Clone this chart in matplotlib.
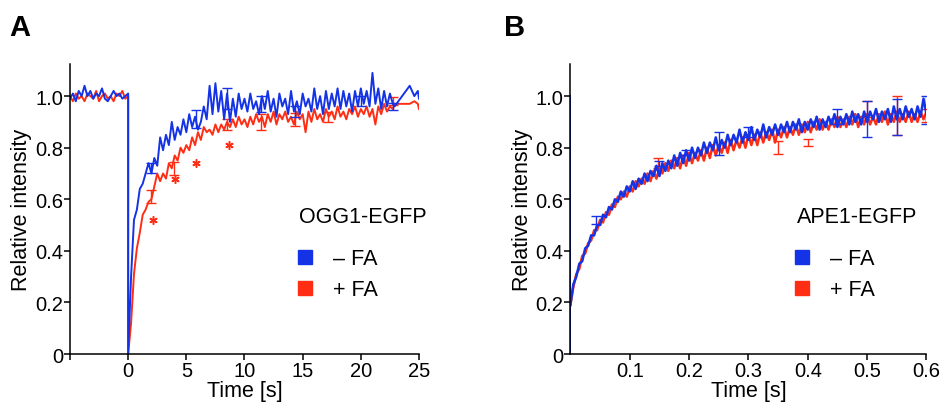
import numpy as np
import matplotlib
matplotlib.use("Agg")
import matplotlib.pyplot as plt
from matplotlib.lines import Line2D

plt.rcParams['font.family'] = ['Liberation Sans', 'DejaVu Sans']

# colours
c_minus = '#1433e6'
c_plus = '#ff2d14'

# ---------------- panel A: OGG1-EGFP ----------------
# pre-bleach, t = -5 .. 0 step 0.25
a_pre_t = np.arange(-5, 0.001, 0.25)
a_pre_minus = [0.99, 1.01, 0.98, 1.02, 1.00, 1.04, 1.00, 1.02, 0.99, 1.01, 1.00,
               1.03, 0.99, 0.98, 1.00, 1.02, 1.00, 1.01, 0.99, 1.00, 1.01]
a_pre_plus = [1.00, 0.98, 1.01, 0.99, 1.00, 0.98, 1.01, 1.00, 0.99, 1.02, 0.98,
              1.00, 1.01, 0.99, 1.00, 0.98, 1.01, 1.00, 1.02, 0.99, 1.00]

# post-bleach, t = 0 .. 22.75 step 0.25
a_post_t = np.arange(0, 22.76, 0.25)
a_post_minus = [0.00, 0.30, 0.52, 0.56, 0.64, 0.66, 0.70, 0.74, 0.70, 0.76,
                0.73, 0.84, 0.79, 0.85, 0.81, 0.90, 0.83, 0.88, 0.85, 0.91,
                0.86, 0.93, 0.88, 0.92, 0.87, 0.90, 0.96, 0.91, 1.04, 0.93,
                1.05, 0.94, 1.02, 0.91, 1.01, 0.90, 0.99, 0.92, 1.01, 0.95,
                0.99, 0.94, 1.01, 0.95, 0.98, 0.93, 1.00, 0.95, 1.02, 0.94,
                0.99, 0.92, 1.01, 0.96, 0.99, 0.93, 1.02, 0.94, 0.98, 0.93,
                1.01, 0.96, 0.99, 0.94, 1.03, 0.95, 1.00, 0.93, 1.02, 0.95,
                1.01, 0.96, 1.03, 0.95, 1.02, 0.96, 1.01, 0.94, 1.02, 0.96,
                1.03, 0.97, 1.02, 0.96, 1.09, 0.97, 1.03, 0.95, 1.02, 0.96,
                1.01, 0.97]
a_post_plus = [0.00, 0.12, 0.31, 0.41, 0.47, 0.54, 0.56, 0.59, 0.60, 0.65,
               0.70, 0.67, 0.70, 0.68, 0.74, 0.72, 0.77, 0.75, 0.80, 0.78,
               0.81, 0.79, 0.84, 0.81, 0.86, 0.83, 0.88, 0.86, 0.87, 0.85,
               0.89, 0.86, 0.89, 0.87, 0.90, 0.88, 0.91, 0.88, 0.92, 0.89,
               0.91, 0.88, 0.92, 0.89, 0.93, 0.90, 0.92, 0.88, 0.93, 0.90,
               0.94, 0.89, 0.93, 0.91, 0.94, 0.90, 0.92, 0.89, 0.94, 0.91,
               0.93, 0.86, 0.94, 0.90, 0.95, 0.91, 0.93, 0.90, 0.95, 0.92,
               0.94, 0.91, 0.96, 0.92, 0.94, 0.91, 0.95, 0.93, 0.96, 0.92,
               0.95, 0.93, 0.96, 0.92, 0.95, 0.89, 0.96, 0.93, 0.97, 0.94,
               0.96, 0.95]

# sparse tail
a_tail_t = [22.9, 24.2, 24.6, 24.9, 25.0]
a_tail_minus = [0.96, 1.04, 1.00, 1.02, 0.99]
a_tail_plus = [0.97, 0.97, 0.98, 0.97, 0.95]

# error bars (time, mean, sem)
a_err_minus_t = [2.0, 5.85, 8.5, 11.4, 14.3, 20.0, 22.8]
a_err_minus_y = [0.72, 0.91, 0.99, 0.97, 0.94, 0.98, 0.96]
a_err_minus_e = [0.02, 0.035, 0.04, 0.03, 0.02, 0.02, 0.012]
a_err_plus_t = [2.0, 3.9, 8.5, 11.4, 14.3, 17.2, 22.8]
a_err_plus_y = [0.61, 0.72, 0.89, 0.90, 0.91, 0.92, 0.98]
a_err_plus_e = [0.025, 0.025, 0.02, 0.03, 0.025, 0.02, 0.015]

# significance stars
a_star_t = [2.1, 4.0, 5.8, 8.7]
a_star_y = [0.52, 0.68, 0.74, 0.81]

# ---------------- panel B: APE1-EGFP ----------------
b_t = np.linspace(0, 0.6, 121)
b_minus = [0.19, 0.27, 0.30, 0.35, 0.36, 0.41, 0.42, 0.46, 0.46, 0.50,
           0.50, 0.54, 0.53, 0.57, 0.56, 0.60, 0.59, 0.63, 0.61, 0.65,
           0.63, 0.67, 0.64, 0.68, 0.66, 0.70, 0.67, 0.71, 0.69, 0.73,
           0.69, 0.74, 0.71, 0.75, 0.72, 0.77, 0.73, 0.78, 0.74, 0.79,
           0.75, 0.80, 0.76, 0.80, 0.77, 0.82, 0.78, 0.82, 0.79, 0.84,
           0.79, 0.83, 0.80, 0.85, 0.81, 0.85, 0.82, 0.87, 0.82, 0.86,
           0.83, 0.88, 0.83, 0.87, 0.84, 0.89, 0.84, 0.88, 0.85, 0.89,
           0.85, 0.89, 0.86, 0.90, 0.86, 0.90, 0.87, 0.91, 0.86, 0.90,
           0.87, 0.91, 0.88, 0.92, 0.87, 0.91, 0.88, 0.92, 0.89, 0.93,
           0.88, 0.92, 0.89, 0.93, 0.89, 0.94, 0.90, 0.93, 0.89, 0.94,
           0.90, 0.94, 0.91, 0.95, 0.90, 0.94, 0.91, 0.95, 0.90, 0.96,
           0.91, 0.95, 0.91, 0.96, 0.92, 0.95, 0.91, 0.96, 0.92, 0.99,
           0.93]
b_plus = [0.19, 0.26, 0.31, 0.33, 0.38, 0.39, 0.43, 0.44, 0.48, 0.48,
          0.52, 0.51, 0.55, 0.54, 0.58, 0.57, 0.61, 0.60, 0.63, 0.61,
          0.65, 0.63, 0.67, 0.65, 0.68, 0.66, 0.70, 0.67, 0.71, 0.68,
          0.72, 0.70, 0.74, 0.71, 0.75, 0.72, 0.76, 0.72, 0.77, 0.73,
          0.78, 0.74, 0.78, 0.75, 0.79, 0.75, 0.80, 0.76, 0.81, 0.77,
          0.81, 0.78, 0.82, 0.78, 0.83, 0.79, 0.83, 0.80, 0.84, 0.80,
          0.85, 0.81, 0.85, 0.81, 0.86, 0.82, 0.86, 0.83, 0.87, 0.82,
          0.87, 0.84, 0.88, 0.84, 0.88, 0.85, 0.89, 0.85, 0.89, 0.86,
          0.90, 0.86, 0.90, 0.87, 0.91, 0.87, 0.90, 0.87, 0.91, 0.88,
          0.92, 0.88, 0.91, 0.88, 0.92, 0.89, 0.93, 0.88, 0.92, 0.89,
          0.93, 0.89, 0.92, 0.89, 0.93, 0.90, 0.94, 0.89, 0.93, 0.90,
          0.94, 0.90, 0.93, 0.90, 0.94, 0.90, 0.93, 0.90, 0.94, 0.91,
          0.94]

b_err_minus_t = [0.044, 0.15, 0.195, 0.25, 0.30, 0.45, 0.50, 0.55, 0.60]
b_err_minus_y = [0.52, 0.74, 0.78, 0.815, 0.86, 0.92, 0.91, 0.92, 0.945]
b_err_minus_e = [0.015, 0.01, 0.01, 0.045, 0.02, 0.03, 0.07, 0.07, 0.055]
b_err_plus_t = [0.148, 0.35, 0.40, 0.50, 0.55, 0.60]
b_err_plus_y = [0.74, 0.80, 0.82, 0.95, 0.925, 0.925]
b_err_plus_e = [0.02, 0.025, 0.015, 0.03, 0.075, 0.025]

fig = plt.figure(figsize=(9.42, 4.06), dpi=100)
axA = fig.add_axes([0.0743, 0.1256, 0.3705, 0.714])
axB = fig.add_axes([0.6055, 0.1256, 0.378, 0.714])

# panel A curves
lw = 1.4
axA.plot(list(a_pre_t) + list(a_post_t) + a_tail_t,
         a_pre_plus + a_post_plus + a_tail_plus, color=c_plus, lw=lw)
axA.errorbar(a_err_plus_t, a_err_plus_y, yerr=a_err_plus_e, fmt='none',
             ecolor=c_plus, elinewidth=1, capsize=3.5)
axA.plot(list(a_pre_t) + list(a_post_t) + a_tail_t,
         a_pre_minus + a_post_minus + a_tail_minus, color=c_minus, lw=lw)
axA.errorbar(a_err_minus_t, a_err_minus_y, yerr=a_err_minus_e, fmt='none',
             ecolor=c_minus, elinewidth=1, capsize=3.5)
axA.plot(a_star_t, a_star_y, ls='none', marker=(6, 2, 0), ms=6, mew=1.1,
         color=c_plus)

axA.set_xlim(-5, 25)
axA.set_xticks([-5, 0, 5, 10, 15, 20, 25])
axA.set_xticklabels(['', '0', '5', '10', '15', '20', '25'])

# panel B curves
lwb = 1.8
axB.plot([0, 0], [1.0, 0.0], color=c_minus, lw=1.4)
axB.plot(b_t, b_plus, color=c_plus, lw=lwb)
axB.errorbar(b_err_plus_t, b_err_plus_y, yerr=b_err_plus_e, fmt='none',
             ecolor=c_plus, elinewidth=1, capsize=3.5)
axB.plot(b_t, b_minus, color=c_minus, lw=lwb)
axB.errorbar(b_err_minus_t, b_err_minus_y, yerr=b_err_minus_e, fmt='none',
             ecolor=c_minus, elinewidth=1, capsize=3.5)
axB.set_xlim(0, 0.6)
axB.set_xticks([0.1, 0.2, 0.3, 0.4, 0.5, 0.6])

for ax, title, tx, lx in [(axA, 'OGG1-EGFP', 0.656, 0.5875),
                          (axB, 'APE1-EGFP', 0.637, 0.566)]:
    ax.set_ylim(0, 1.124)
    ax.set_yticks([0, 0.2, 0.4, 0.6, 0.8, 1.0])
    ax.set_yticklabels(['0', '0.2', '0.4', '0.6', '0.8', '1.0'])
    for s in ['top', 'right']:
        ax.spines[s].set_visible(False)
    for s in ['left', 'bottom']:
        ax.spines[s].set_linewidth(1.1)
    ax.tick_params(labelsize=14.5, length=4, width=1.1, pad=1)
    ax.set_xlabel('Time [s]', fontsize=15.5, labelpad=0)
    ax.set_ylabel('Relative intensity', fontsize=15.5, labelpad=2)
    ax.text(tx, 0.474, title, transform=ax.transAxes, fontsize=15.5,
            va='center', ha='left')
    handles = [Line2D([], [], ls='none', marker='s', ms=10, color=c_minus),
               Line2D([], [], ls='none', marker='s', ms=10, color=c_plus)]
    ax.legend(handles, ['\u2013 FA', '+ FA'], loc='upper left',
              bbox_to_anchor=(lx, 0.431), frameon=False, fontsize=15.5,
              handlelength=1.0, handletextpad=0.8, labelspacing=0.45)

fig.text(0.01, 0.965, 'A', fontsize=21, fontweight='bold', va='top')
fig.text(0.535, 0.965, 'B', fontsize=21, fontweight='bold', va='top')

fig.savefig('out.png', dpi=100)
